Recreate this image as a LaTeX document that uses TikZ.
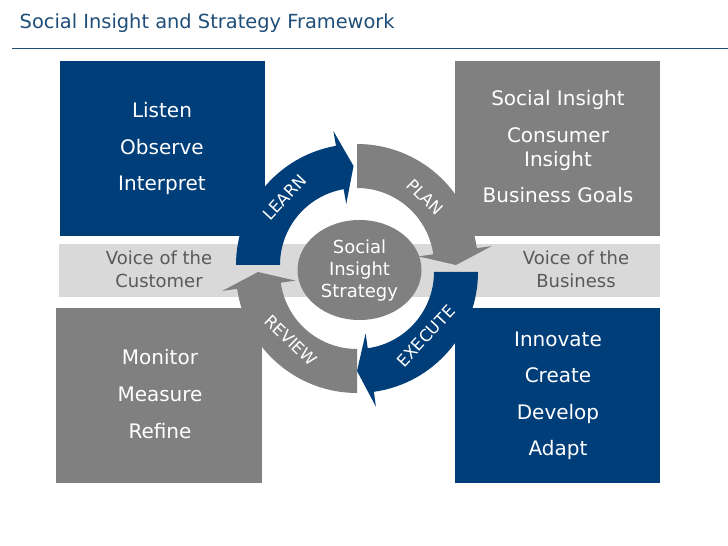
\documentclass[tikz,border=0pt]{standalone}
\usepackage{fontspec}
\setmainfont{DejaVu Sans}
\usetikzlibrary{shapes.geometric,calc}
\definecolor{dblue}{RGB}{0,62,122}
\definecolor{mgray}{RGB}{128,128,128}
\definecolor{lgray}{RGB}{217,217,217}
\definecolor{tgray}{RGB}{89,89,89}
\definecolor{tblue}{RGB}{31,78,121}
\newcommand{\ringarrow}[5]{%
  \begin{scope}[shift={#2}]
    \fill[#1] (#3:121pt) arc[start angle=#3, end angle=#4, radius=121pt]
      -- (#4:136pt) -- (#5:99pt) -- (#4:62pt) -- (#4:77pt)
      arc[start angle=#4, end angle=#3, radius=77pt] -- cycle;
  \end{scope}}
\begin{document}
\begin{tikzpicture}[x=1pt,y=1pt,
  boxtxt/.style={text=white, font=\fontsize{20}{24}\selectfont, anchor=base, inner sep=0pt},
  bandtxt/.style={text=tgray, font=\fontsize{18}{22}\selectfont, anchor=base, inner sep=0pt},
  coretxt/.style={text=white, font=\fontsize{18}{22}\selectfont, anchor=base, inner sep=0pt},
  arrtxt/.style={text=white, font=\fontsize{16.5}{19}\selectfont, inner sep=0pt},
  panel/.style={draw=none, inner sep=0pt, outer sep=0pt}]
\useasboundingbox (0,0) rectangle (728,546);
\fill[white] (0,0) rectangle (728,546);
% title
\node[anchor=base west, inner sep=0pt, text=tblue, font=\fontsize{19.4}{23}\selectfont] (title) at (19.5,517) {Social Insight and Strategy Framework};
\coordinate (rl) at (12,497);
\coordinate (rr) at (728,497);
\draw[tblue, line width=1pt] (rl) -- (rr);
% band and panels
\fill[lgray] (59,249) rectangle (660,302);
\fill[dblue] (59.5,310) rectangle (264.5,485);
\fill[mgray] (455,310) rectangle (660,485);
\fill[mgray] (56,63.3) rectangle (262,237.5);
\fill[dblue] (455,63.3) rectangle (659.5,237.5);
% core ellipse
\node[ellipse, fill=mgray, minimum width=124pt, minimum height=100pt, inner sep=0pt] (core) at (359.5,276) {};
% ring arrows
\ringarrow{dblue}{(357,281)}{180}{100}{92}
\ringarrow{mgray}{(357,281)}{90}{8}{0}
\ringarrow{dblue}{(357,274)}{0}{-82}{-90}
\ringarrow{mgray}{(357,274)}{-90}{-172}{-180}
% arrow labels
\node[arrtxt, rotate=47] (learn) at ($(357,281)+(137:99pt)$) {LEARN};
\node[arrtxt, rotate=-45] (plan) at ($(357,281)+(45:96pt)$) {PLAN};
\node[arrtxt, rotate=47] (execute) at ($(357,274)+(-43:94pt)$) {EXECUTE};
\node[arrtxt, rotate=-44] (review) at ($(357,274)+(-134:95pt)$) {REVIEW};
% core text
\node[coretxt] (c1) at (359.5,292) {Social};
\node[coretxt] (c2) at (359.5,270) {Insight};
\node[coretxt] (c3) at (359.5,248) {Strategy};
% top-left
\node[boxtxt] (tl1) at (162,428) {Listen};
\node[boxtxt] (tl2) at (162,391) {Observe};
\node[boxtxt] (tl3) at (162,355) {Interpret};
% top-right
\node[boxtxt] (tr1) at (558,440) {Social Insight};
\node[boxtxt] (tr2) at (558,403) {Consumer};
\node[boxtxt] (tr3) at (558,379) {Insight};
\node[boxtxt] (tr4) at (558,343) {Business Goals};
% band
\node[bandtxt] (bl1) at (159,281.5) {Voice of the};
\node[bandtxt] (bl2) at (159,258.5) {Customer};
\node[bandtxt] (br1) at (576,281.5) {Voice of the};
\node[bandtxt] (br2) at (576,258.5) {Business};
% bottom-left
\node[boxtxt] (bt1) at (160,181) {Monitor};
\node[boxtxt] (bt2) at (160,144) {Measure};
\node[boxtxt] (bt3) at (160,107) {Refine};
% bottom-right
\node[boxtxt] (bb1) at (558,199) {Innovate};
\node[boxtxt] (bb2) at (558,163) {Create};
\node[boxtxt] (bb3) at (558,126) {Develop};
\node[boxtxt] (bb4) at (558,90) {Adapt};
\end{tikzpicture}
\end{document}
